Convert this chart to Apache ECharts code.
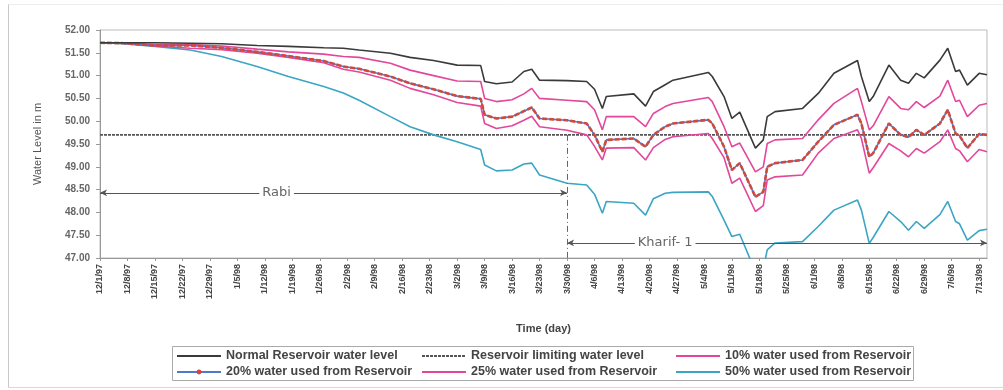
<!DOCTYPE html>
<html>
<head>
<meta charset="utf-8">
<script src="https://cdn.jsdelivr.net/npm/echarts@6/dist/echarts.min.js"></script>
<style>html,body{margin:0;padding:0;background:#fff;}#c{width:1003px;height:390px;}</style>
</head>
<body>
<div id="c"></div>
<script>
// Day index from 12/1/97
const days = [0, 6, 14, 23, 31, 40, 48, 57, 62, 66, 74, 79, 85, 91, 97, 98, 101, 105, 108, 110, 112, 119, 124, 126, 128, 129, 136, 139, 141, 144, 146, 155, 156, 159, 161, 163, 167, 169, 170, 172, 179, 183, 187, 193, 194, 196, 197, 201, 204, 206, 208, 210, 214, 216, 218, 219, 221, 224, 226];

const normalLevel = [51.72, 51.72, 51.72, 51.71, 51.70, 51.66, 51.64, 51.61, 51.60, 51.56, 51.49, 51.40, 51.33, 51.23, 51.22, 50.87, 50.82, 50.86, 51.09, 51.14, 50.90, 50.89, 50.87, 50.70, 50.28, 50.54, 50.60, 50.33, 50.65, 50.80, 50.90, 51.07, 50.98, 50.54, 50.06, 50.20, 49.41, 49.59, 50.10, 50.21, 50.28, 50.61, 51.05, 51.33, 50.98, 50.43, 50.54, 51.23, 50.90, 50.83, 51.05, 50.95, 51.34, 51.60, 51.09, 51.12, 50.79, 51.05, 51.02];

const used10 = [51.72, 51.71, 51.68, 51.68, 51.65, 51.58, 51.52, 51.47, 51.42, 51.40, 51.27, 51.12, 51.00, 50.88, 50.87, 50.50, 50.43, 50.47, 50.60, 50.72, 50.50, 50.46, 50.43, 50.25, 49.81, 50.10, 50.10, 49.88, 50.17, 50.32, 50.39, 50.52, 50.43, 49.88, 49.44, 49.52, 48.89, 49.00, 49.51, 49.59, 49.62, 50.03, 50.39, 50.72, 50.43, 49.81, 49.90, 50.54, 50.28, 50.25, 50.43, 50.30, 50.55, 50.90, 50.43, 50.46, 50.10, 50.35, 50.39];

const used20 = [51.72, 51.71, 51.66, 51.66, 51.61, 51.52, 51.43, 51.32, 51.20, 51.15, 50.98, 50.83, 50.70, 50.55, 50.49, 50.14, 50.06, 50.10, 50.22, 50.30, 50.06, 50.02, 49.95, 49.70, 49.33, 49.59, 49.62, 49.44, 49.70, 49.88, 49.95, 50.03, 49.95, 49.44, 48.93, 49.08, 48.34, 48.45, 49.00, 49.08, 49.15, 49.55, 49.92, 50.14, 49.95, 49.22, 49.30, 49.95, 49.70, 49.65, 49.81, 49.70, 49.95, 50.25, 49.73, 49.68, 49.41, 49.72, 49.70];

const used25 = [51.72, 51.71, 51.65, 51.60, 51.57, 51.49, 51.40, 51.28, 51.14, 51.08, 50.90, 50.72, 50.58, 50.41, 50.33, 49.95, 49.84, 49.90, 50.02, 50.11, 49.88, 49.80, 49.70, 49.45, 49.15, 49.41, 49.42, 49.15, 49.42, 49.60, 49.66, 49.73, 49.62, 49.20, 48.64, 48.75, 48.02, 48.15, 48.71, 48.78, 48.82, 49.30, 49.62, 49.81, 49.62, 48.86, 48.98, 49.51, 49.35, 49.22, 49.40, 49.30, 49.55, 49.81, 49.40, 49.35, 49.11, 49.38, 49.33];

const used50 = [51.72, 51.70, 51.64, 51.56, 51.42, 51.20, 50.98, 50.76, 50.62, 50.46, 50.10, 49.88, 49.70, 49.55, 49.38, 49.04, 48.91, 48.93, 49.06, 49.08, 48.82, 48.64, 48.60, 48.40, 47.98, 48.24, 48.20, 47.94, 48.30, 48.42, 48.44, 48.45, 48.35, 47.83, 47.47, 47.52, 46.70, 46.75, 47.18, 47.33, 47.36, 47.69, 48.05, 48.27, 48.05, 47.32, 47.45, 48.02, 47.80, 47.61, 47.80, 47.65, 47.95, 48.24, 47.80, 47.75, 47.39, 47.60, 47.63];

const limitingLevel = 49.70;
const limitDays = [0, 226];

const xTickLabels = ['12/1/97','12/8/97','12/15/97','12/22/97','12/29/97','1/5/98','1/12/98','1/19/98','1/26/98','2/2/98','2/9/98','2/16/98','2/23/98','3/2/98','3/9/98','3/16/98','3/23/98','3/30/98','4/6/98','4/13/98','4/20/98','4/27/98','5/4/98','5/11/98','5/18/98','5/25/98','6/1/98','6/8/98','6/15/98','6/22/98','6/29/98','7/6/98','7/13/98'];
const yTickLabels = ['47.00','47.50','48.00','48.50','49.00','49.50','50.00','50.50','51.00','51.50','52.00'];

const seriesNames = ['Normal Reservoir water level','Reservoir limiting water level','10% water used from Reservoir','20% water used from Reservoir','25% water used from Reservoir','50% water used from Reservoir'];

// Season annotations: [startDay, endDay, level, label, labelDay]
const rabi = [0, 119, 48.43, 'Rabi', 45];
const kharif = [119, 226, 47.33, 'Kharif- 1', 144];
const seasonSplitDay = 119;

const pair = (vals) => days.map((d, i) => [d, vals[i]]);

const chart = echarts.init(document.getElementById('c'));
const lineBase = { type: 'line', showSymbol: false, symbol: 'none', animation: false, smooth: false };
const legendText = { fontSize: 12.5, lineHeight: 14, fontWeight: 'bold', color: '#444', fontFamily: 'Liberation Sans, Arial, sans-serif' };
const noDot = (name) => ({ name: name, itemStyle: { opacity: 0 } });
const legendCol = (left, items) => ({
  orient: 'vertical', left: left, top: 349, height: 40, padding: 0,
  itemWidth: 44, itemHeight: 6, itemGap: 2, textStyle: legendText, data: items
});

chart.setOption({
  animation: false,
  backgroundColor: '#fff',
  textStyle: { fontFamily: 'Liberation Sans, Arial, sans-serif' },
  grid: { left: 100, right: 16, top: 30, bottom: 132, show: true, borderColor: '#bbb', borderWidth: 1 },
  legend: [
    legendCol(176, [noDot(seriesNames[0]), { name: seriesNames[3], itemStyle: { color: '#d9423a' } }]),
    legendCol(421, [noDot(seriesNames[1]), noDot(seriesNames[4])]),
    legendCol(675, [noDot(seriesNames[2]), noDot(seriesNames[5])])
  ],
  graphic: [
    { type: 'rect', shape: { x: 172.5, y: 346.5, width: 741, height: 34 }, style: { fill: 'none', stroke: '#aaa', lineWidth: 1 }, silent: true },
    { type: 'line', shape: { x1: 8.5, y1: 4, x2: 8.5, y2: 387.5 }, style: { stroke: '#c8c8c8', lineWidth: 1 }, silent: true },
    { type: 'line', shape: { x1: 8.5, y1: 387.5, x2: 1003, y2: 387.5 }, style: { stroke: '#d8d8d8', lineWidth: 1 }, silent: true },
    { type: 'line', shape: { x1: 8.5, y1: 4.5, x2: 1003, y2: 4.5 }, style: { stroke: '#eee', lineWidth: 1 }, silent: true }
  ],
  xAxis: {
    type: 'value', min: 0, max: 226, interval: 7,
    name: 'Time (day)', nameLocation: 'middle', nameGap: 65,
    nameTextStyle: { fontSize: 11, fontWeight: 'bold', color: '#444' },
    axisLine: { lineStyle: { color: '#999' } },
    axisTick: { show: true, length: 3, lineStyle: { color: '#999' } },
    splitLine: { show: false },
    axisLabel: {
      rotate: 90, fontSize: 9, fontWeight: 'bold', color: '#444', margin: 6,
      showMaxLabel: false,
      formatter: (v) => (v % 7 === 0 ? (xTickLabels[v / 7] || '') : '')
    }
  },
  yAxis: {
    type: 'value', min: 47, max: 52, interval: 0.5,
    name: 'Water Level in m', nameLocation: 'middle', nameGap: 57,
    nameTextStyle: { fontSize: 11, color: '#555' },
    axisLine: { show: true, lineStyle: { color: '#999' } },
    axisTick: { show: true, length: 4, lineStyle: { color: '#999' } },
    splitLine: { show: false },
    axisLabel: {
      fontSize: 10, fontWeight: 'bold', color: '#666', margin: 10,
      formatter: (v) => yTickLabels[Math.round((v - 47) / 0.5)] || ''
    }
  },
  series: [
    Object.assign({}, lineBase, {
      name: seriesNames[1], z: 3,
      data: limitDays.map(d => [d, limitingLevel]),
      lineStyle: { color: '#555', width: 1.6, type: [3, 1] },
      itemStyle: { color: '#555' },
      markLine: {
        silent: true, animation: false, symbol: ['arrow', 'arrow'], symbolSize: [5, 7],
        label: { show: false },
        lineStyle: { color: '#555', width: 1, type: 'solid' },
        data: [
          [{ coord: [rabi[0], rabi[2]] }, { coord: [rabi[1], rabi[2]] }],
          [{ coord: [kharif[0], kharif[2]] }, { coord: [kharif[1], kharif[2]] }],
          [{ coord: [seasonSplitDay, limitingLevel], symbol: 'none' }, { coord: [seasonSplitDay, 47], symbol: 'none', lineStyle: { type: [6, 3, 1, 3], color: '#666' } }]
        ]
      },
      markPoint: {
        silent: true, animation: false, symbol: 'rect', symbolSize: 1,
        itemStyle: { color: 'rgba(0,0,0,0)' },
        label: { show: true, position: 'inside', color: '#666', fontSize: 13, fontFamily: 'DejaVu Sans, sans-serif', backgroundColor: '#fff', padding: [0, 3], formatter: (p) => p.name },
        data: [
          { name: rabi[3], coord: [rabi[4], rabi[2]] },
          { name: kharif[3], coord: [kharif[4], kharif[2]] }
        ]
      }
    }),
    Object.assign({}, lineBase, {
      name: seriesNames[5], z: 4, data: pair(used50),
      lineStyle: { color: '#3ba5c4', width: 1.6 }, itemStyle: { color: '#3ba5c4' }
    }),
    Object.assign({}, lineBase, {
      name: seriesNames[4], z: 4, data: pair(used25),
      lineStyle: { color: '#e2479c', width: 1.6 }, itemStyle: { color: '#e2479c' }
    }),
    Object.assign({}, lineBase, {
      name: seriesNames[3], z: 5, data: pair(used20), symbol: 'circle', symbolSize: 4,
      lineStyle: { color: '#5079cc', width: 1.6 }, itemStyle: { color: '#d9423a' }
    }),
    Object.assign({}, lineBase, {
      name: '20overlay', z: 6, data: pair(used20), silent: true,
      lineStyle: { color: '#cf4a3e', width: 2.6, type: [5, 2] }
    }),
    Object.assign({}, lineBase, {
      name: seriesNames[2], z: 4, data: pair(used10),
      lineStyle: { color: '#e2479c', width: 1.6 }, itemStyle: { color: '#e2479c' }
    }),
    Object.assign({}, lineBase, {
      name: seriesNames[0], z: 7, data: pair(normalLevel),
      lineStyle: { color: '#3a3a3a', width: 1.6 }, itemStyle: { color: '#3a3a3a' }
    })
  ]
});
</script>
</body>
</html>
